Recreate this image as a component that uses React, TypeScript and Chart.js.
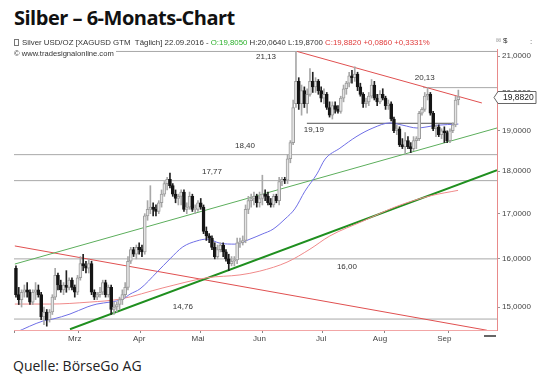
import React, { useEffect, useRef } from "react";
import { Chart, registerables } from "chart.js";

Chart.register(...registerables);

// ---- Data (trading days from 15.02.2016 to 22.09.2016) ----
const monthStarts = [11, 34, 55, 77, 99, 120, 143];
const monthLabels = ["Mrz", "Apr", "Mai", "Jun", "Jul", "Aug", "Sep"];

const opens = [
  15.8, 15.25, 15.15, 15.3, 15.35, 15.3, 15.1, 15.3, 15.35, 15.25, 14.8,
  14.9, 14.75, 14.9, 15.2, 15.65, 15.45, 15.35, 15.45, 15.4, 15.55, 15.4, 15.3, 15.6, 15.9, 15.85, 15.8, 15.9, 15.3, 15.2, 15.25, 15.3, 15.5, 15.25,
  15.4, 14.95, 15.0, 15.05, 15.15, 15.25, 15.4, 15.95, 16.2, 16.1, 16.25, 16.2, 16.15, 16.95, 17.1, 17.15, 17.1, 17.05, 17.25, 17.45, 17.7,
  17.8, 17.65, 17.45, 17.35, 17.4, 17.5, 17.1, 17.15, 17.4, 17.1, 17.1, 17.25, 17.15, 16.6, 16.5, 16.45, 16.25, 16.05, 16.2, 16.3, 16.15, 16.0,
  15.9, 15.95, 15.98, 16.35, 16.35, 16.4, 17.1, 17.3, 17.35, 17.4, 17.25, 17.35, 17.45, 17.4, 17.25, 17.2, 17.4, 17.3, 17.75, 17.8, 17.78, 18.3,
  18.7, 19.7, 20.3, 19.7, 20.05, 19.7, 19.95, 20.3, 20.15, 20.3, 20.05, 19.85, 19.95, 19.6, 19.4, 19.65, 19.55, 19.5, 19.85, 20.1, 20.25,
  20.45, 20.4, 20.5, 20.15, 19.95, 19.7, 19.75, 19.9, 20.2, 19.85, 19.75, 19.95, 19.85, 19.65, 19.7, 19.3, 19.0, 19.05, 18.65, 18.6, 18.75, 18.6, 18.55,
  18.75, 18.8, 19.45, 19.55, 19.9, 19.95, 19.45, 19.05, 19.1, 18.9, 19.0, 18.95, 18.75, 19.0, 19.15, 19.805,
];
const highs = [
  15.85, 15.4, 15.35, 15.45, 15.5, 15.35, 15.35, 15.5, 15.45, 15.3, 15.0,
  14.95, 14.95, 15.25, 15.8, 15.7, 15.55, 15.5, 15.75, 15.6, 15.6, 15.45, 15.65, 16.05, 16.1, 15.95, 16.0, 15.95, 15.35, 15.3, 15.4, 15.55, 15.55, 15.45,
  15.45, 15.1, 15.1, 15.2, 15.35, 15.5, 16.05, 16.25, 16.25, 16.3, 16.35, 16.3, 17.0, 17.3, 17.65, 17.25, 17.2, 17.3, 17.55, 17.75, 17.85,
  17.95, 17.7, 17.55, 17.45, 17.55, 17.55, 17.25, 17.5, 17.45, 17.2, 17.3, 17.35, 17.2, 16.7, 16.55, 16.5, 16.35, 16.3, 16.35, 16.35, 16.2, 16.1,
  16.05, 16.05, 16.45, 16.45, 16.5, 17.2, 17.4, 17.45, 17.5, 17.45, 17.5, 17.9, 17.55, 17.5, 17.35, 17.45, 17.45, 17.85, 17.85, 17.85, 18.4, 18.75,
  19.8, 21.13, 20.4, 20.2, 20.15, 20.1, 20.65, 20.55, 20.4, 20.35, 20.15, 20.1, 20.0, 19.75, 19.75, 19.75, 19.65, 19.9, 20.2, 20.3, 20.55,
  20.6, 20.7, 20.55, 20.25, 20.0, 19.85, 20.0, 20.35, 20.3, 19.95, 20.05, 20.1, 19.9, 19.8, 19.75, 19.35, 19.15, 19.1, 18.8, 18.95, 18.85, 18.7, 18.85,
  18.85, 19.5, 19.6, 20.0, 20.13, 20.0, 19.5, 19.15, 19.15, 19.05, 19.1, 19.0, 19.05, 19.2, 19.9, 20.064,
];
const lows = [
  15.2, 15.05, 15.0, 15.2, 15.2, 15.05, 15.05, 15.15, 15.2, 14.75, 14.65,
  14.62, 14.7, 14.85, 15.15, 15.35, 15.3, 15.25, 15.3, 15.35, 15.35, 15.2, 15.25, 15.55, 15.75, 15.7, 15.7, 15.25, 15.15, 15.15, 15.2, 15.25, 15.2, 15.2,
  14.85, 14.85, 14.9, 14.95, 15.05, 15.2, 15.35, 15.9, 16.05, 16.0, 16.1, 16.05, 16.1, 16.85, 17.0, 16.95, 16.95, 17.0, 17.15, 17.4, 17.55,
  17.6, 17.4, 17.25, 17.2, 17.2, 17.05, 17.0, 17.1, 17.05, 17.0, 17.05, 17.1, 16.55, 16.4, 16.35, 16.2, 16.0, 16.0, 16.15, 16.05, 15.95, 15.75,
  15.85, 15.85, 15.9, 16.25, 16.3, 16.35, 17.0, 17.15, 17.2, 17.15, 17.15, 17.2, 17.3, 17.2, 17.15, 17.15, 17.25, 17.2, 17.65, 17.7, 17.7, 18.2,
  18.65, 19.6, 19.55, 19.4, 19.6, 19.45, 19.9, 20.0, 20.0, 19.95, 19.75, 19.7, 19.55, 19.35, 19.3, 19.45, 19.45, 19.45, 19.75, 19.95, 20.15,
  20.25, 20.3, 20.05, 19.9, 19.6, 19.6, 19.65, 19.85, 19.8, 19.65, 19.7, 19.8, 19.55, 19.55, 19.25, 18.95, 18.9, 18.6, 18.55, 18.43, 18.55, 18.45, 18.5,
  18.55, 18.75, 19.4, 19.5, 19.8, 19.4, 19.0, 18.85, 18.85, 18.8, 18.7, 18.7, 18.7, 18.95, 19.1, 19.67,
];
const closes = [
  15.25, 15.15, 15.3, 15.35, 15.3, 15.1, 15.3, 15.35, 15.25, 14.8, 14.9,
  14.75, 14.9, 15.2, 15.65, 15.45, 15.35, 15.45, 15.4, 15.55, 15.4, 15.3, 15.6, 15.9, 15.85, 15.8, 15.9, 15.3, 15.2, 15.25, 15.3, 15.5, 15.25, 15.4,
  14.95, 15.0, 15.05, 15.15, 15.25, 15.4, 15.95, 16.2, 16.1, 16.25, 16.2, 16.15, 16.95, 17.1, 17.15, 17.1, 17.05, 17.25, 17.45, 17.7, 17.8,
  17.65, 17.45, 17.35, 17.4, 17.5, 17.1, 17.15, 17.4, 17.1, 17.12, 17.25, 17.15, 16.6, 16.5, 16.45, 16.25, 16.05, 16.2, 16.3, 16.15, 16.0, 15.9,
  15.95, 15.98, 16.35, 16.37, 16.4, 17.1, 17.3, 17.35, 17.4, 17.25, 17.35, 17.45, 17.4, 17.25, 17.2, 17.4, 17.3, 17.75, 17.8, 17.78, 18.3, 18.7,
  19.6, 20.3, 19.7, 20.05, 19.7, 19.95, 20.3, 20.15, 20.3, 20.05, 19.85, 19.95, 19.6, 19.4, 19.65, 19.55, 19.5, 19.85, 20.1, 20.25, 20.45,
  20.4, 20.5, 20.15, 19.95, 19.7, 19.75, 19.9, 20.2, 19.85, 19.75, 19.95, 19.85, 19.65, 19.7, 19.3, 19.0, 19.05, 18.65, 18.6, 18.75, 18.6, 18.55, 18.75,
  18.8, 19.45, 19.55, 19.9, 19.95, 19.45, 19.05, 19.1, 18.9, 19.0, 18.95, 18.75, 19.0, 19.15, 19.8, 19.882,
];

// 50-day moving average (blue): day index / value
const maShortX = [0, 9.6, 13.2, 19.3, 25.4, 28.9, 33.6, 38.2, 40.7, 44.3, 50.4, 55, 59.6, 64.6, 68.2, 72.9, 78.2, 83.6, 87.9, 91.8, 96.1, 99.6, 103.2, 107.5, 110.4, 115.7, 121.8, 127.5, 133.6, 138.2, 143.2, 150.4, 158];
const maShortY = [14.5, 14.72, 14.76, 14.86, 15.0, 15.06, 15.1, 15.16, 15.26, 15.37, 15.72, 16.0, 16.26, 16.39, 16.43, 16.34, 16.32, 16.43, 16.54, 16.65, 16.88, 17.11, 17.52, 17.93, 18.29, 18.56, 18.86, 19.07, 19.2, 19.14, 19.07, 19.14, 19.17];
// 200-day moving average (light red)
const maLongX = [-0.4, 12.1, 26.4, 37.1, 52.5, 68.2, 80, 87.1, 96.8, 105, 112.1, 123.9, 136.1, 147.9, 157.9];
const maLongY = [15.06, 15.06, 15.1, 15.16, 15.39, 15.6, 15.66, 15.74, 15.93, 16.21, 16.5, 16.83, 17.17, 17.41, 17.54];

// Trend lines: [startIndex, startValue, endIndex, endValue]
const supportThick = [19.3, 14.56, 171.8, 18.02];
const channelGreen = [-0.4, 15.89, 171.8, 19.07];
const downTrendLow = [-0.4, 16.28, 168.2, 14.54];
const resistanceRed = [100.4, 21.13, 166.4, 19.72];

// Horizontal levels
const levelValues = [21.13, 20.13, 19.19, 18.4, 17.77, 16.0, 14.76];
const levelLabels = ["21,13", "20,13", "19,19", "18,40", "17,77", "16,00", "14,76"];
const levelFrom = [-0.7, 145.4, 103.9, -0.7, -0.7, -0.7, -0.7];
const levelTo = [171.8, 171.8, 157.5, 171.8, 171.8, 171.8, 171.8];
const levelLabelAt = [89.3, 146, 106.4, 81.8, 70, 118.2, 59.6];
const levelLabelDy = [5, -10, 7, -9, -9, 8, -12];

const yTicks = [15, 16, 17, 18, 19, 20, 21];
const lastPrice = 19.882;

const fmt4 = (v: number) => v.toFixed(4).replace(".", ",");

export default function App() {
  const ref = useRef<HTMLCanvasElement | null>(null);

  useEffect(() => {
    document.body.style.margin = "0";
    const canvas = ref.current;
    if (!canvas) return;

    const idx = closes.map((_, i) => i);
    const isUp = idx.map((i) => closes[i] >= opens[i]);

    const seg = (a: number[]) => [
      { x: a[0], y: a[1] },
      { x: a[2], y: a[3] },
    ];
    const lineDs = (data: any[], color: string, width: number, order: number, extra: any = {}) => ({
      type: "line" as const,
      data,
      borderColor: color,
      borderWidth: width,
      pointRadius: 0,
      fill: false,
      tension: 0,
      order,
      ...extra,
    });

    const levelDatasets = levelValues.map((v, k) =>
      lineDs(
        [
          { x: levelFrom[k], y: v },
          { x: levelTo[k], y: v },
        ],
        k === 2 ? "#555555" : "#a8a8a8",
        1,
        20
      )
    );

    const overlay = {
      id: "overlay",
      afterDatasetsDraw(chart: any) {
        const { ctx, scales } = chart;
        const xs = scales.x;
        const ys = scales.y;
        ctx.save();
        ctx.font = "8px 'Liberation Sans', Arial, sans-serif";
        ctx.fillStyle = "#333";
        ctx.textAlign = "center";
        ctx.textBaseline = "middle";
        levelValues.forEach((v, k) => {
          const px = xs.getPixelForValue(levelLabelAt[k]);
          const py = ys.getPixelForValue(v) + levelLabelDy[k];
          ctx.fillText(levelLabels[k], px, py);
        });
        ctx.restore();
      },
      afterDraw(chart: any) {
        const { ctx, scales, chartArea } = chart;
        const ys = scales.y;
        const py = Math.round(ys.getPixelForValue(lastPrice)) + 0.5;
        const x0 = chartArea.right;
        ctx.save();
        ctx.fillStyle = "#fff";
        ctx.strokeStyle = "#666";
        ctx.lineWidth = 1;
        ctx.beginPath();
        ctx.moveTo(x0 - 3, py);
        ctx.lineTo(x0 + 1, py - 6);
        ctx.lineTo(x0 + 39, py - 6);
        ctx.lineTo(x0 + 39, py + 6);
        ctx.lineTo(x0 + 1, py + 6);
        ctx.closePath();
        ctx.fill();
        ctx.stroke();
        ctx.font = "8.5px 'Liberation Sans', Arial, sans-serif";
        ctx.fillStyle = "#222";
        ctx.textAlign = "left";
        ctx.textBaseline = "middle";
        ctx.fillText(fmt4(lastPrice), x0 + 6, py + 0.5);
        ctx.restore();
      },
    };

    const chart = new Chart(canvas, {
      type: "bar",
      data: {
        datasets: [
          {
            type: "bar",
            data: idx.map((i) => ({ x: i, y: [opens[i], closes[i]] })) as any,
            backgroundColor: isUp.map((u) => (u ? "#e4e4e4" : "#151515")),
            borderColor: isUp.map((u) => (u ? "#9c9c9c" : "#151515")),
            borderWidth: 1,
            borderSkipped: false,
            barThickness: 3,
            grouped: false,
            order: 0,
          } as any,
          {
            type: "bar",
            data: idx.map((i) => ({ x: i, y: [lows[i], highs[i]] })) as any,
            backgroundColor: isUp.map((u) => (u ? "#a8a8a8" : "#222222")),
            borderWidth: 0,
            barThickness: 1,
            grouped: false,
            order: 1,
          } as any,
          lineDs(maShortX.map((x, k) => ({ x, y: maShortY[k] })), "#6f6fe6", 1, 3, {
            cubicInterpolationMode: "monotone",
          }),
          lineDs(maLongX.map((x, k) => ({ x, y: maLongY[k] })), "#f08a8a", 1, 4, {
            cubicInterpolationMode: "monotone",
          }),
          lineDs(seg(supportThick), "#1f8f1f", 2, 5),
          lineDs(seg(channelGreen), "#5cae5c", 1, 6),
          lineDs(seg(downTrendLow), "#e05050", 1, 7),
          lineDs(seg(resistanceRed), "#e05050", 1, 8),
          ...levelDatasets,
        ] as any,
      },
      options: {
        responsive: false,
        animation: false,
        devicePixelRatio: 1,
        layout: { padding: { left: 14, top: 49, right: 0, bottom: 0 } },
        plugins: { legend: { display: false }, tooltip: { enabled: false } },
        scales: {
          x: {
            type: "linear",
            min: -0.7,
            max: 171.8,
            offset: false,
            afterBuildTicks: (scale: any) => {
              scale.ticks = monthStarts.map((v) => ({ value: v }));
            },
            afterFit: (scale: any) => {
              scale.height = 16;
            },
            ticks: {
              autoSkip: false,
              maxRotation: 0,
              padding: 1,
              labelOffset: 28,
              font: { size: 8, family: "'Liberation Sans', Arial, sans-serif" },
              color: "#444",
              callback: (v: any) => {
                const k = monthStarts.indexOf(Number(v));
                return k >= 0 ? monthLabels[k] : "";
              },
            },
            grid: { drawOnChartArea: false, drawTicks: true, tickLength: 3, color: "#888" },
            border: { color: "#f2a6a6", width: 1 },
          },
          y: {
            type: "logarithmic",
            position: "right",
            min: 14.545,
            max: 21.2,
            afterBuildTicks: (scale: any) => {
              scale.ticks = yTicks.map((v) => ({ value: v }));
            },
            afterFit: (scale: any) => {
              scale.width = 43;
            },
            ticks: {
              padding: 2,
              font: { size: 8, family: "'Liberation Sans', Arial, sans-serif" },
              color: "#444",
              callback: (v: any) => fmt4(Number(v)),
            },
            grid: { drawOnChartArea: false, drawTicks: true, tickLength: 3, color: "#999" },
            border: { color: "#e88a8a", width: 1 },
          },
        },
      } as any,
      plugins: [overlay],
    });

    return () => chart.destroy();
  }, []);

  const small: React.CSSProperties = {
    position: "absolute",
    fontFamily: "'Liberation Sans', Arial, sans-serif",
    fontSize: "7.85px",
    whiteSpace: "nowrap",
    lineHeight: "9px",
  };

  return (
    <div style={{ position: "relative", width: 540, height: 380, background: "#fff", overflow: "hidden" }}>
      <div
        style={{
          position: "absolute",
          left: 14,
          top: 4,
          fontFamily: "'Open Sans', sans-serif",
          fontWeight: 700,
          fontSize: "20px",
          color: "#111",
          whiteSpace: "nowrap",
          letterSpacing: "-0.5px",
        }}
      >
        Silber – 6-Monats-Chart
      </div>
      <canvas ref={ref} width={540} height={346} style={{ position: "absolute", left: 0, top: 0 }} />
      <div style={{ ...small, left: 14, top: 38, color: "#333" }}>
        <span style={{ display: "inline-block", width: 3, height: 5, border: "1px solid #777", marginRight: 3, verticalAlign: "-1px" }} />
        Silver USD/OZ [XAGUSD GTM&nbsp;&nbsp;Täglich] 22.09.2016 -{" "}
        <span style={{ color: "#2bb02b" }}>O:19,8050</span> H:20,0640 L:19,8700{" "}
        <span style={{ color: "#e03a3a" }}>C:19,8820 +0,0860 +0,3331%</span>
      </div>
      <div style={{ ...small, left: 14, top: 48.5, color: "#333", background: "#fff", paddingRight: 2, fontSize: "7.6px" }}>
        © www.tradesignalonline.com
      </div>
      <div style={{ ...small, left: 496, top: 36, color: "#999", fontSize: "6px" }}>⊠</div>
      <div style={{ ...small, left: 503, top: 36, color: "#333", fontSize: "8px" }}>$</div>
      <div style={{ ...small, left: 530, top: 37, color: "#555", fontSize: "8px" }}>:</div>
      <div style={{ position: "absolute", left: 484, top: 335, width: 12, height: 2, background: "#666" }} />
      <div
        style={{
          position: "absolute",
          left: 13,
          top: 356,
          fontFamily: "'Open Sans', sans-serif",
          fontSize: "14px",
          color: "#222",
          whiteSpace: "nowrap",
        }}
      >
        Quelle: BörseGo AG
      </div>
    </div>
  );
}
